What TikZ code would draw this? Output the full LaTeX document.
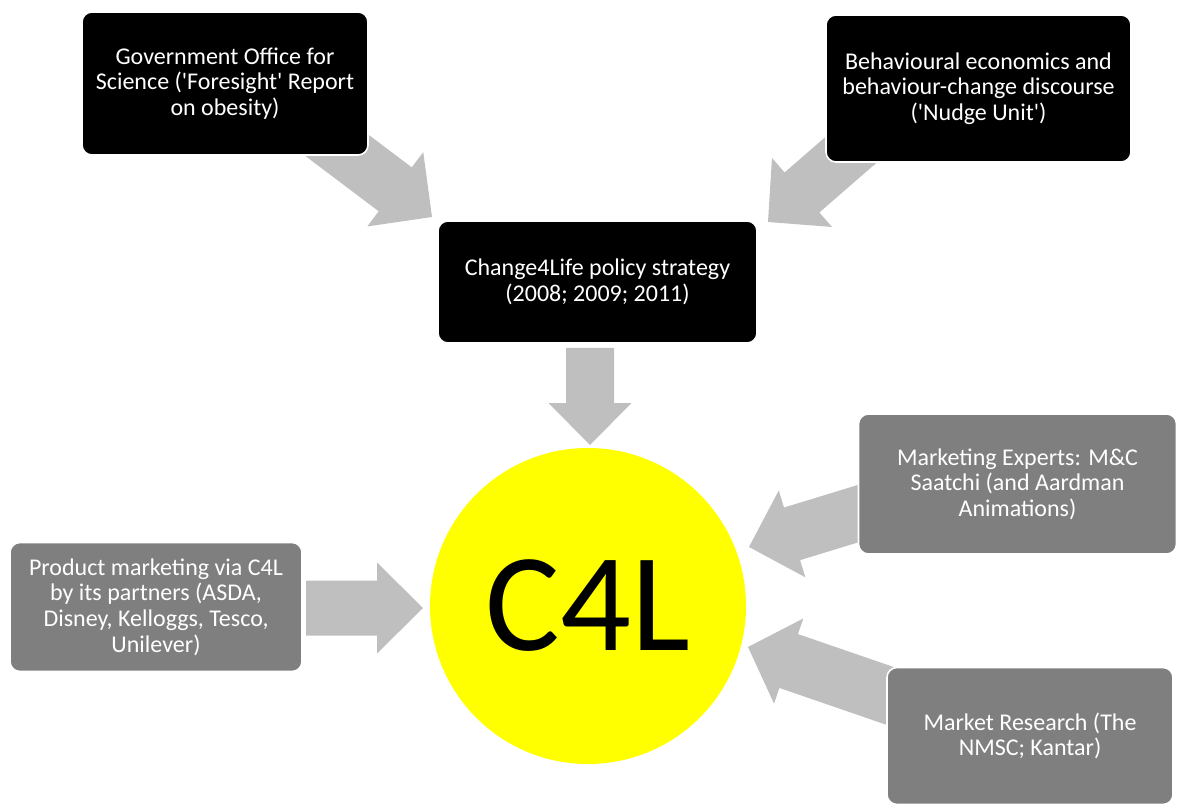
\documentclass[tikz,border=0pt]{standalone}
\usepackage{fontspec}
\setmainfont{Carlito}
\definecolor{boxgray}{RGB}{127,127,127}
\definecolor{arrowgray}{RGB}{191,191,191}
\definecolor{cyellow}{RGB}{255,255,0}
\tikzset{
  blackbox/.style={rectangle,rounded corners=7.5pt,fill=black,draw=white,line width=1.2pt,
    text=white,align=center,inner sep=0pt,font=\fontsize{18}{19.2}\selectfont},
  graybox/.style={blackbox,fill=boxgray},
}
\newcommand{\q}{\textquotesingle}
\newcommand{\blockarrow}[6]{%
  \begin{scope}[shift={(#1)},rotate=#2]
    \fill[arrowgray] (0,0) -- (-#6,#5) -- (-#6,#4) -- (-#3,#4) -- (-#3,-#4) -- (-#6,-#4) -- (-#6,-#5) -- cycle;
  \end{scope}}
\begin{document}
\begin{tikzpicture}[x=0.75pt,y=-0.75pt]
\useasboundingbox (0,0) rectangle (1177,805);

\coordinate (tipgov) at (432,217);
\coordinate (tipnudge) at (768,222);
\coordinate (tipstrat) at (590,445);
\coordinate (tipprod) at (423,608);
\coordinate (tipmce) at (749,547);
\coordinate (tipmr) at (748,647);

\blockarrow{tipgov}{-37}{150}{27.5}{46.5}{46}
\blockarrow{tipnudge}{-139}{150}{26.5}{45.7}{45}
\blockarrow{tipstrat}{-90}{97}{24}{41.5}{42}
\blockarrow{tipprod}{0}{117}{27.5}{45.5}{46}
\blockarrow{tipmce}{197}{130}{27.5}{45.4}{45}
\blockarrow{tipmr}{161}{160}{28.5}{45}{43}

\node[blackbox,minimum width=214.5pt,minimum height=107.25pt] (gov) at (225,83.5)
  {Government Office for\\Science (\q Foresight\q{} Report\\on obesity)};
\node[blackbox,minimum width=228.75pt,minimum height=110.25pt] (nudge) at (978.5,88.5)
  {Behavioural economics and\\behaviour-change discourse\\(\q Nudge Unit\q)};
\node[blackbox,minimum width=239.25pt,minimum height=91.5pt] (strat) at (597.5,282)
  {Change4Life policy strategy\\(2008; 2009; 2011)};
\node[graybox,minimum width=219pt,minimum height=96.75pt] (prod) at (156,607)
  {Product marketing via C4L\\by its partners (ASDA,\\Disney, Kelloggs, Tesco,\\Unilever)};
\node[graybox,minimum width=238.5pt,minimum height=105pt] (mce) at (1017.5,484)
  {Marketing Experts: M\&C\\Saatchi (and Aardman\\Animations)};
\node[graybox,minimum width=214.5pt,minimum height=102.75pt] (mr) at (1030,736)
  {Market Research (The\\NMSC; Kantar)};

\node[circle,fill=cyellow,minimum size=237pt,inner sep=0pt,
  font=\fontsize{105}{110}\selectfont] (c4l) at (588,606) {C4L};
\end{tikzpicture}
\end{document}
